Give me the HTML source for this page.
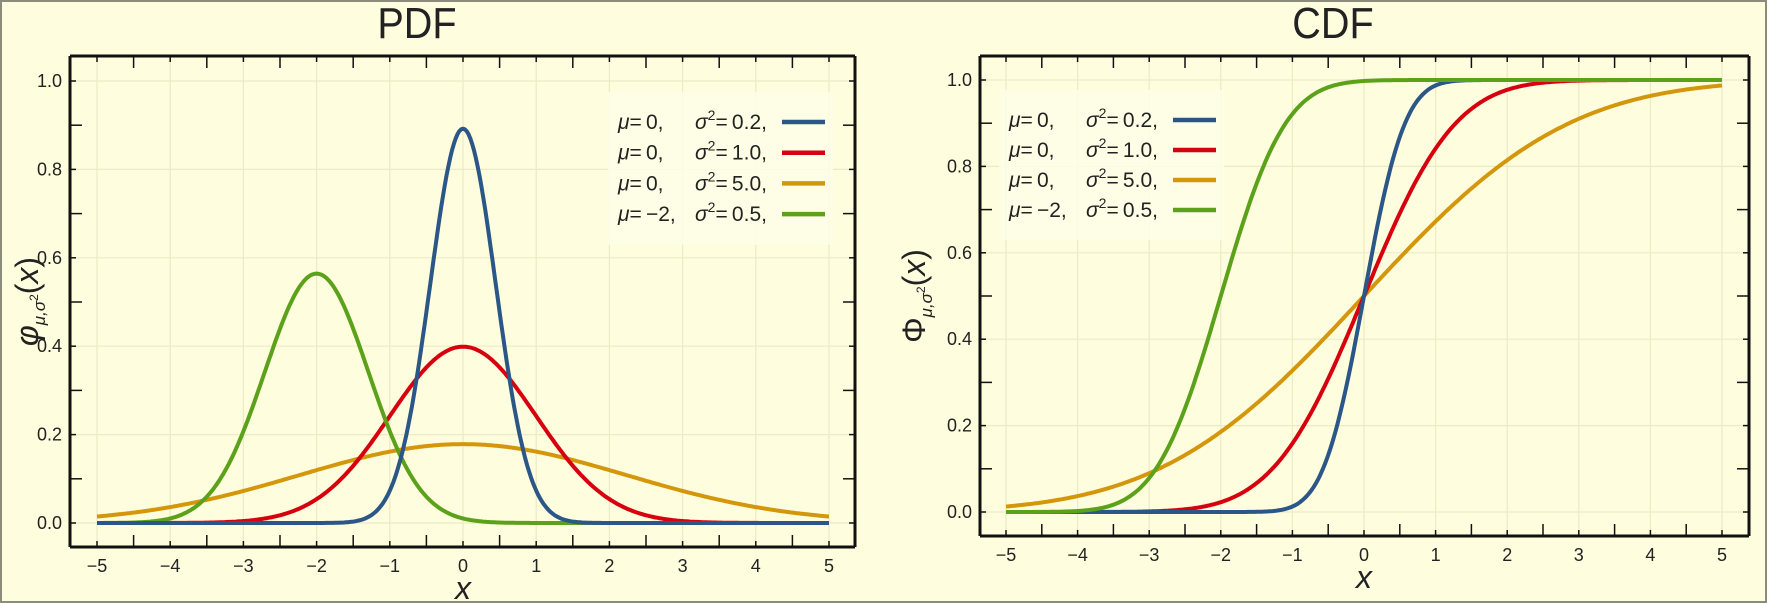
<!DOCTYPE html>
<html><head><meta charset="utf-8"><style>
html,body{margin:0;padding:0;background:#fefede;}
svg{display:block}
text{font-family:"Liberation Sans",sans-serif;fill:#222}
</style></head><body>
<svg id="s" width="1767" height="603" xmlns="http://www.w3.org/2000/svg">
<rect x="1" y="1" width="1765" height="601" fill="#fefddd" stroke="#8c8c7c" stroke-width="2"/>
<text x="417" y="38" font-size="44" text-anchor="middle" fill="#111" transform="translate(417,0) scale(0.9,1) translate(-417,0)">PDF</text>
<text x="1333" y="38" font-size="44" text-anchor="middle" fill="#111" transform="translate(1333,0) scale(0.9,1) translate(-1333,0)">CDF</text>
<g id="g"></g>
</svg>
<script>
const NS="http://www.w3.org/2000/svg";
const g=document.getElementById('g');
function el(t,a,txt){const e=document.createElementNS(NS,t);for(const k in a)e.setAttribute(k,a[k]);if(txt!==undefined)e.textContent=txt;g.appendChild(e);return e;}
function erf(x){const s=x<0?-1:1;x=Math.abs(x);const t=1/(1+0.3275911*x);const y=1-(((((1.061405429*t-1.453152027)*t)+1.421413741)*t-0.284496736)*t+0.254829592)*t*Math.exp(-x*x);return s*y;}
const series=[[0,0.2,'#2b5688'],[0,1,'#d7000f'],[0,5,'#d4960b'],[-2,0.5,'#5ba21a']];
const cols=['#2b5688','#d7000f','#d4960b','#5ba21a'];
function plot(P){
 const {L,R,T,B,x0,x1,y0,y1,cdf}=P;
 const X=v=>x0+(v+5)*(x1-x0)/10, Y=v=>y0+y1*v;
 for(let i=-5;i<=5;i++) el('line',{x1:X(i),x2:X(i),y1:T,y2:B,stroke:'#ecebc6','stroke-width':1.2});
 for(let i=0;i<=5;i++) el('line',{x1:L,x2:R,y1:Y(i*0.2),y2:Y(i*0.2),stroke:'#ecebc6','stroke-width':1.2});
 const order=cdf?[2,1,0,3]:[2,1,3,0];
 for(const k of order){const [m,v,c]=series[k];let d='';
  for(let i=0;i<=400;i++){const x=-5+i/40;let y=cdf?0.5*(1+erf((x-m)/Math.sqrt(2*v))):Math.exp(-(x-m)*(x-m)/(2*v))/Math.sqrt(2*Math.PI*v);
   d+=(i?'L':'M')+X(x).toFixed(1)+' '+Y(y).toFixed(1);}
  el('path',{d,fill:'none',stroke:c,'stroke-width':4,'stroke-linejoin':'round'});}
 el('line',{x1:L,x2:R,y1:T,y2:T,stroke:'#111','stroke-width':3});
 el('line',{x1:L,x2:R,y1:B,y2:B,stroke:'#111','stroke-width':3});
 el('line',{x1:L,x2:L,y1:T,y2:B,stroke:'#111','stroke-width':3});
 el('line',{x1:R,x2:R,y1:T,y2:B,stroke:'#111','stroke-width':3});
 for(let i=-11;i<=11;i++){const v=i/2;const x=X(v);if(x<L||x>R)continue;const big=(i%2!==0);const l=big?12:6;
  el('line',{x1:x,x2:x,y1:B,y2:B-l,stroke:'#111','stroke-width':1.5});
  el('line',{x1:x,x2:x,y1:T,y2:T+l,stroke:'#111','stroke-width':1.5});}
 for(let i=-1;i<=11;i++){const y=Y(i*0.1);if(y<T||y>B)continue;const l=i%2?12:6;
  el('line',{x1:L,x2:L+l,y1:y,y2:y,stroke:'#111','stroke-width':1.5});
  el('line',{x1:R,x2:R-l,y1:y,y2:y,stroke:'#111','stroke-width':1.5});}
 for(let i=-5;i<=5;i++) el('text',{x:X(i),y:B+25,'font-size':18,'text-anchor':'middle'},i<0?'\u2212'+(-i):''+i);
 for(let i=0;i<=5;i++) el('text',{x:L-8,y:Y(i*0.2)+6,'font-size':18,'text-anchor':'end'},(i*0.2).toFixed(1));
 el('text',{x:(x0+x1)/2,y:B+52,'font-size':32,'font-style':'italic','text-anchor':'middle','font-family':'Liberation Serif'},'x');
 const {lx,ly,ls,lw}=P;
 el('rect',{x:lx-10,y:ly-30,width:lw,height:ls*4+30,fill:'#fefee8',opacity:0.85});
 const labs=[['0,','0.2,'],['0,','1.0,'],['0,','5.0,'],['\u22122,','0.5,']];
 labs.forEach((a,k)=>{const y=ly+k*ls;
  const t=el('text',{x:lx,y:y+7,'font-size':21});
  t.innerHTML='<tspan font-style="italic">μ</tspan>=\u2009'+a[0];
  const t2=el('text',{x:lx+77,y:y+7,'font-size':21});
  t2.innerHTML='<tspan font-style="italic">σ</tspan><tspan dy="-9" font-size="14">2</tspan><tspan dy="9">=\u2009'+a[1]+'</tspan>';
  el('line',{x1:lx+164,x2:lx+207,y1:y,y2:y,stroke:cols[k],'stroke-width':4.5});});
 const yl=el('text',{transform:`translate(${P.ylx},${(T+B)/2}) rotate(-90)`,'font-size':32,'text-anchor':'middle','font-family':'Liberation Serif'});
 yl.innerHTML=(cdf?'Φ':'<tspan font-style="italic">φ</tspan>')+'<tspan font-size="17" dy="7" font-style="italic">μ,σ</tspan><tspan font-size="12" dy="-7">2</tspan><tspan dy="0">(</tspan><tspan font-style="italic">x</tspan>)';
}
plot({L:70,R:855,T:56,B:547,x0:97,x1:829,y0:523,y1:-442,cdf:false,lx:618,ly:122,ls:30.7,lw:225,ylx:38});
plot({L:980,R:1749,T:56,B:536,x0:1006,x1:1722,y0:512,y1:-432,cdf:true,lx:1009,ly:120,ls:30,lw:225,ylx:925});
</script>
</body></html>
